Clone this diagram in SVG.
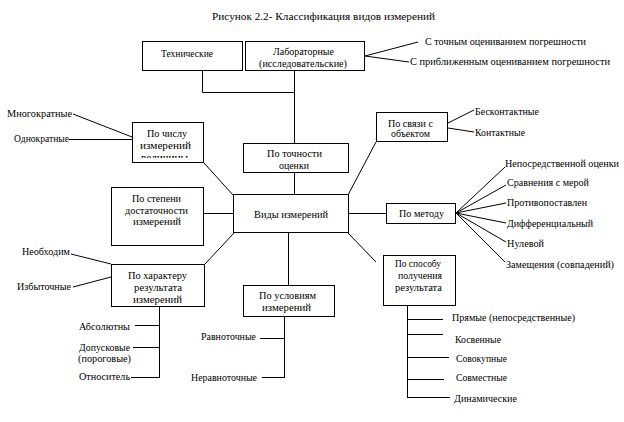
<svg xmlns="http://www.w3.org/2000/svg" width="624" height="422" viewBox="0 0 624 422">
<style>
.box{fill:#fff;stroke:#000;stroke-width:1}
.ln{stroke:#000;stroke-width:1;fill:none}
text{font-family:"Liberation Serif","Times New Roman",serif;font-size:10px;fill:#000}
</style>
<defs>
<clipPath id="clipChislo"><rect x="132" y="122" width="72" height="36"/></clipPath>
</defs>
<rect width="624" height="422" fill="#fff"/>
<text id="title" x="212" y="20" textLength="223" lengthAdjust="spacingAndGlyphs">Рисунок 2.2- Классификация видов измерений</text>

<g id="connectors">
<polyline class="ln" points="202.5,71 202.5,92.5 294.5,92.5"/>
<line class="ln" x1="294.5" y1="71" x2="294.5" y2="143"/>
<line class="ln" x1="294.5" y1="173" x2="294.5" y2="195"/>
<line class="ln" x1="365" y1="56" x2="418" y2="42"/>
<line class="ln" x1="365" y1="56" x2="409" y2="62"/>
<line class="ln" x1="73" y1="114" x2="132" y2="137"/>
<line class="ln" x1="69" y1="139.5" x2="132" y2="139.5"/>
<line class="ln" x1="204" y1="163" x2="233" y2="195"/>
<line class="ln" x1="204" y1="213.5" x2="234" y2="213.5"/>
<line class="ln" x1="348" y1="195" x2="376" y2="142"/>
<line class="ln" x1="448" y1="123" x2="474" y2="110"/>
<line class="ln" x1="448" y1="128" x2="474" y2="132"/>
<line class="ln" x1="349" y1="213.5" x2="386" y2="213.5"/>
<line class="ln" x1="456" y1="213" x2="505" y2="167"/>
<line class="ln" x1="456" y1="213" x2="506" y2="185"/>
<line class="ln" x1="456" y1="213" x2="506" y2="203"/>
<line class="ln" x1="456" y1="213" x2="506" y2="223"/>
<line class="ln" x1="456" y1="213" x2="506" y2="242"/>
<line class="ln" x1="456" y1="213" x2="505" y2="262"/>
<line class="ln" x1="348" y1="233" x2="376" y2="262"/>
<line class="ln" x1="407.5" y1="306" x2="407.5" y2="397.5"/>
<line class="ln" x1="407" y1="319.5" x2="443" y2="319.5"/>
<line class="ln" x1="407" y1="334.5" x2="443" y2="334.5"/>
<line class="ln" x1="407" y1="357.5" x2="449" y2="357.5"/>
<line class="ln" x1="407" y1="379.5" x2="444" y2="379.5"/>
<line class="ln" x1="407" y1="397.5" x2="450" y2="397.5"/>
<line class="ln" x1="288.5" y1="233" x2="288.5" y2="285"/>
<line class="ln" x1="284.5" y1="317" x2="284.5" y2="377.5"/>
<line class="ln" x1="260" y1="338.5" x2="285" y2="338.5"/>
<line class="ln" x1="262" y1="377.5" x2="285" y2="377.5"/>
<line class="ln" x1="205" y1="264" x2="234" y2="233"/>
<line class="ln" x1="71" y1="254" x2="111" y2="264"/>
<line class="ln" x1="73" y1="287" x2="111" y2="277"/>
<line class="ln" x1="159.5" y1="307" x2="159.5" y2="377.5"/>
<line class="ln" x1="135" y1="325.5" x2="160" y2="325.5"/>
<line class="ln" x1="133" y1="347.5" x2="160" y2="347.5"/>
<line class="ln" x1="131" y1="377.5" x2="160" y2="377.5"/>
</g>

<g id="tekhnicheskie">
<rect class="box" x="142.5" y="41.5" width="100" height="29"/>
<text x="161" y="56.5" textLength="52" lengthAdjust="spacingAndGlyphs">Технические</text>
</g>
<g id="laboratornye">
<rect class="box" x="245.5" y="41.5" width="119" height="29"/>
<text x="273" y="55" textLength="61" lengthAdjust="spacingAndGlyphs">Лабораторные</text>
<text x="259" y="67" textLength="88" lengthAdjust="spacingAndGlyphs">(исследовательские)</text>
</g>
<g id="lab-children">
<text x="425" y="44.5" textLength="161" lengthAdjust="spacingAndGlyphs">С точным оцениванием погрешности</text>
<text x="410" y="65" textLength="200" lengthAdjust="spacingAndGlyphs">С приближенным оцениванием погрешности</text>
</g>
<g id="po-chislu">
<rect class="box" x="132.5" y="122.5" width="71" height="40"/>
<g clip-path="url(#clipChislo)">
<text x="147" y="136.5" textLength="40" lengthAdjust="spacingAndGlyphs">По числу</text>
<text x="140" y="148.5" textLength="51" lengthAdjust="spacingAndGlyphs">измерений</text>
<text x="141" y="160.5" textLength="47" lengthAdjust="spacingAndGlyphs">величины</text>
</g>
</g>
<g id="chislo-children">
<text x="7" y="116.5" textLength="65" lengthAdjust="spacingAndGlyphs">Многократные</text>
<text x="14" y="142" textLength="55" lengthAdjust="spacingAndGlyphs">Однократные</text>
</g>
<g id="po-tochnosti">
<rect class="box" x="243.5" y="143.5" width="105" height="29"/>
<text x="267" y="156.5" textLength="55" lengthAdjust="spacingAndGlyphs">По точности</text>
<text x="279" y="168.5" textLength="30" lengthAdjust="spacingAndGlyphs">оценки</text>
</g>
<g id="po-stepeni">
<rect class="box" x="111.5" y="187.5" width="92" height="58"/>
<text x="132" y="201.5" textLength="49" lengthAdjust="spacingAndGlyphs">По степени</text>
<text x="125" y="213.5" textLength="63" lengthAdjust="spacingAndGlyphs">достаточности</text>
<text x="133" y="225" textLength="48" lengthAdjust="spacingAndGlyphs">измерений</text>
</g>
<g id="vidy">
<rect class="box" x="233.5" y="194.5" width="115" height="38"/>
<text x="254" y="217.5" textLength="74" lengthAdjust="spacingAndGlyphs">Виды измерений</text>
</g>
<g id="po-svyazi">
<rect class="box" x="376.5" y="112.5" width="71" height="29"/>
<text x="388" y="126.5" textLength="45" lengthAdjust="spacingAndGlyphs">По связи с</text>
<text x="391" y="137" textLength="39" lengthAdjust="spacingAndGlyphs">объектом</text>
</g>
<g id="svyaz-children">
<text x="475" y="115" textLength="64" lengthAdjust="spacingAndGlyphs">Бесконтактные</text>
<text x="475" y="135.5" textLength="50" lengthAdjust="spacingAndGlyphs">Контактные</text>
</g>
<g id="po-metodu">
<rect class="box" x="386.5" y="203.5" width="69" height="20"/>
<text x="399" y="217" textLength="45" lengthAdjust="spacingAndGlyphs">По методу</text>
</g>
<g id="metod-children">
<text x="505" y="166.5" textLength="114" lengthAdjust="spacingAndGlyphs">Непосредственной оценки</text>
<text x="507" y="185.5" textLength="82" lengthAdjust="spacingAndGlyphs">Сравнения с мерой</text>
<text x="507" y="205.5" textLength="80" lengthAdjust="spacingAndGlyphs">Противопоставлен</text>
<text x="507" y="227" textLength="86" lengthAdjust="spacingAndGlyphs">Дифференциальный</text>
<text x="507" y="247" textLength="37" lengthAdjust="spacingAndGlyphs">Нулевой</text>
<text x="506" y="268" textLength="108" lengthAdjust="spacingAndGlyphs">Замещения (совпадений)</text>
</g>
<g id="po-sposobu">
<rect class="box" x="383.5" y="255.5" width="72" height="50"/>
<text x="395" y="266.5" textLength="46" lengthAdjust="spacingAndGlyphs">По способу</text>
<text x="398" y="278.5" textLength="44" lengthAdjust="spacingAndGlyphs">получения</text>
<text x="395" y="291" textLength="47" lengthAdjust="spacingAndGlyphs">результата</text>
</g>
<g id="sposob-children">
<text x="452" y="320.5" textLength="123" lengthAdjust="spacingAndGlyphs">Прямые (непосредственные)</text>
<text x="455" y="342.5" textLength="46" lengthAdjust="spacingAndGlyphs">Косвенные</text>
<text x="456" y="361.5" textLength="51" lengthAdjust="spacingAndGlyphs">Совокупные</text>
<text x="456" y="380.5" textLength="51" lengthAdjust="spacingAndGlyphs">Совместные</text>
<text x="454" y="401.5" textLength="63" lengthAdjust="spacingAndGlyphs">Динамические</text>
</g>
<g id="po-usloviyam">
<rect class="box" x="243.5" y="285.5" width="91" height="31"/>
<text x="259" y="299" textLength="57" lengthAdjust="spacingAndGlyphs">По условиям</text>
<text x="262" y="310.5" textLength="49" lengthAdjust="spacingAndGlyphs">измерений</text>
</g>
<g id="usloviya-children">
<text x="201" y="340" textLength="55" lengthAdjust="spacingAndGlyphs">Равноточные</text>
<text x="191" y="380.5" textLength="66" lengthAdjust="spacingAndGlyphs">Неравноточные</text>
</g>
<g id="po-kharakteru">
<rect class="box" x="111.5" y="264.5" width="93" height="42"/>
<text x="128" y="278.5" textLength="59" lengthAdjust="spacingAndGlyphs">По характеру</text>
<text x="134" y="290.5" textLength="48" lengthAdjust="spacingAndGlyphs">результата</text>
<text x="133" y="302.5" textLength="49" lengthAdjust="spacingAndGlyphs">измерений</text>
</g>
<g id="kharakter-children">
<text x="22" y="255" textLength="48" lengthAdjust="spacingAndGlyphs">Необходим</text>
<text x="17" y="290" textLength="54" lengthAdjust="spacingAndGlyphs">Избыточные</text>
<text x="79" y="329.5" textLength="51" lengthAdjust="spacingAndGlyphs">Абсолютны</text>
<text x="79" y="350.5" textLength="51" lengthAdjust="spacingAndGlyphs">Допусковые</text>
<text x="78" y="361.5" textLength="53" lengthAdjust="spacingAndGlyphs">(пороговые)</text>
<text x="79" y="379.5" textLength="51" lengthAdjust="spacingAndGlyphs">Относитель</text>
</g>
</svg>
